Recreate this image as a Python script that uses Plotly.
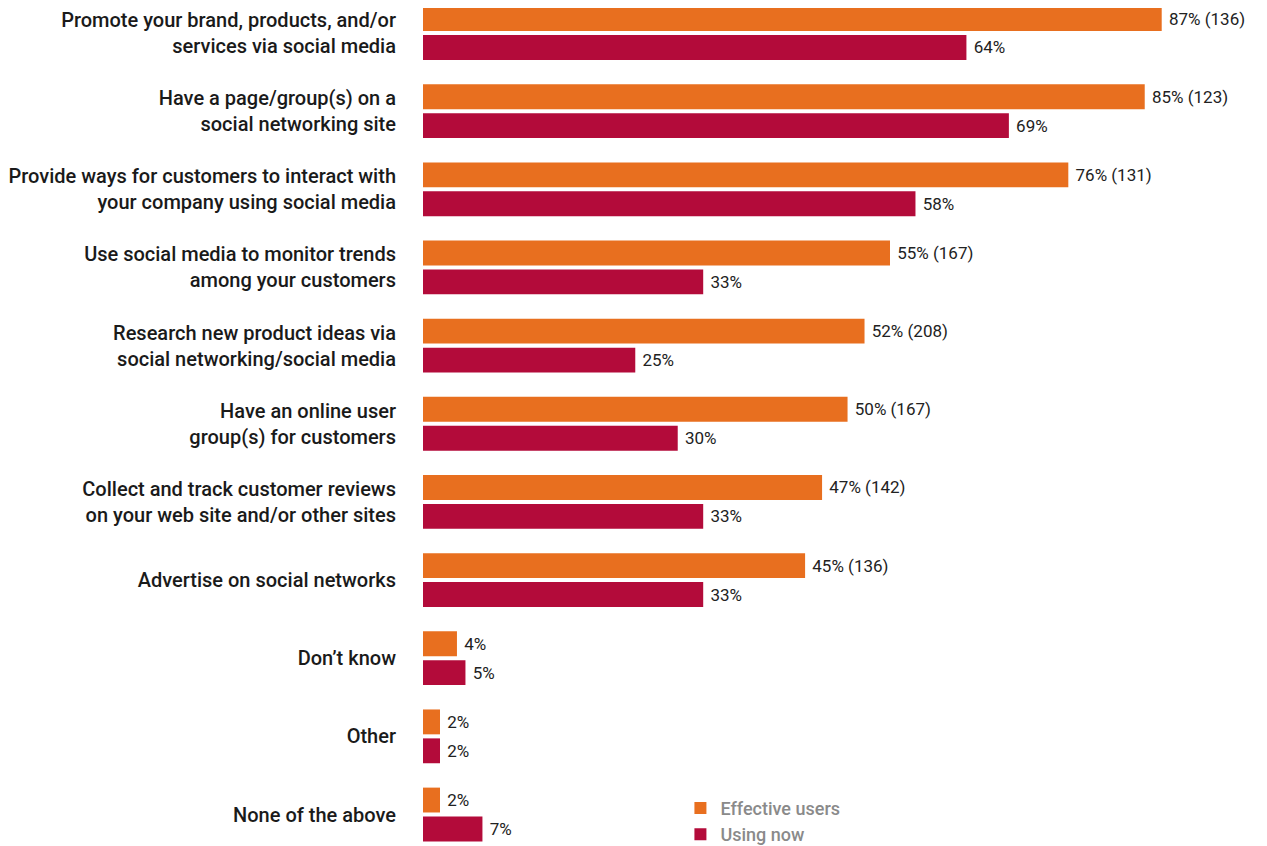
import plotly.graph_objects as go

categories = [
    "Promote your brand, products, and/or<br>services via social media",
    "Have a page/group(s) on a<br>social networking site",
    "Provide ways for customers to interact with<br>your company using social media",
    "Use social media to monitor trends<br>among your customers",
    "Research new product ideas via<br>social networking/social media",
    "Have an online user<br>group(s) for customers",
    "Collect and track customer reviews<br>on your web site and/or other sites",
    "Advertise on social networks",
    "Don\u2019t know",
    "Other",
    "None of the above",
]
effective = [87, 85, 76, 55, 52, 50, 47, 45, 4, 2, 2]
effective_n = [136, 123, 131, 167, 208, 167, 142, 136, None, None, None]
using_now = [64, 69, 58, 33, 25, 30, 33, 33, 5, 2, 7]

eff_text = [f" {v}% ({n})" if n is not None else f" {v}%" for v, n in zip(effective, effective_n)]
use_text = [f" {v}%" for v in using_now]

ORANGE = "#E86F1F"
CRIMSON = "#B30B3A"

fig = go.Figure()
fig.add_trace(go.Bar(
    y=categories, x=effective, orientation="h", name="Effective users",
    marker=dict(color=ORANGE, line=dict(width=0)),
    text=eff_text, textposition="outside", cliponaxis=False,
    textfont=dict(family="Roboto", size=17, color="#222222"),
    legendgroup="a", hoverinfo="skip",
))
fig.add_trace(go.Bar(
    y=categories, x=using_now, orientation="h", name="Using now",
    marker=dict(color=CRIMSON, line=dict(width=0)),
    text=use_text, textposition="outside", cliponaxis=False,
    textfont=dict(family="Roboto", size=17, color="#222222"),
    legendgroup="b", hoverinfo="skip",
))

fig.update_layout(
    width=1259, height=838,
    margin=dict(l=415, r=0, t=0, b=0, autoexpand=False),
    paper_bgcolor="white", plot_bgcolor="white",
    barmode="group", bargap=0.26, bargroupgap=0.14,
    showlegend=True,
    legend=dict(
        x=0.305, xanchor="left", y=-0.008, yanchor="bottom",
        font=dict(family="Roboto", size=18, color="#8a8a8a", weight=500),
        tracegroupgap=0, bgcolor="rgba(0,0,0,0)",
    ),
    xaxis=dict(range=[0, 99.4], visible=False, showgrid=False, zeroline=False),
    yaxis=dict(
        range=[10.403, -0.320], showgrid=False, zeroline=False, showline=False,
        ticks="", ticklabelstandoff=26,
        tickfont=dict(family="Roboto", size=20, color="#1a1a1a", weight=500),
    ),
)

fig.write_html("out.html")
